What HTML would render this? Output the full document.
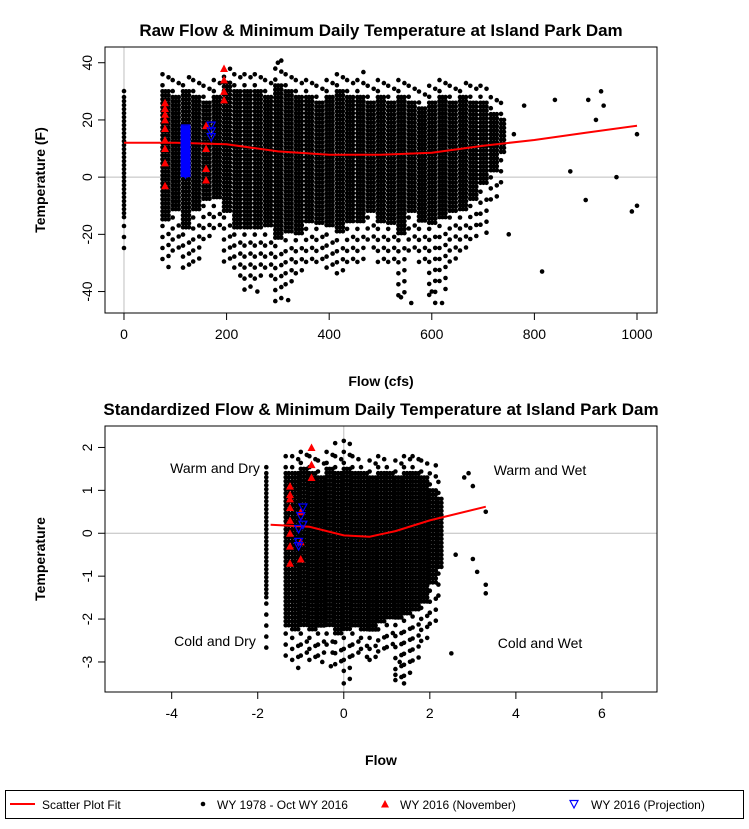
<!DOCTYPE html>
<html><head><meta charset="utf-8">
<style>
body{margin:0;background:#fff;}
svg{display:block;font-family:"Liberation Sans",Arial,sans-serif;}
</style></head>
<body>
<svg id="c" width="749" height="829" viewBox="0 0 749 829"></svg>
<script>
// ---- Top chart data (raw flow, cfs / temperature F) ----
const topColFlow=[0,75,95,115,135,155,175,195,215,235,255,275,295,315,335,355,375,395,415,435,455,475,495,515,535,555,575,595,615,635,655,675,695,715,735];
const topColEnd=[6,95,115,135,155,175,195,215,235,255,275,295,315,335,355,375,395,415,435,455,475,495,515,535,555,575,595,615,635,655,675,695,715,735,750];
const topColLo=[-15,-15,-12,-18,-12,-8,-8,-12,-18,-18,-18,-18,-22,-20,-20,-16,-16,-18,-20,-16,-16,-12,-16,-16,-20,-12,-16,-16,-15,-12,-12,-8,-3,2,8];
const topColHi=[28,30,28,30,28,26,28,33,30,30,30,28,32,30,28,28,26,28,30,28,28,26,28,26,28,26,24,26,28,26,28,26,26,22,20];
const topTailLo=[-28,-32,-26,-32,-30,-22,-20,-30,-35,-40,-38,-35,-44,-38,-35,-30,-30,-32,-35,-30,-30,-25,-32,-32,-44,-28,-30,-44,-40,-32,-28,-22,-20,-8,-2];
const topTailHi=[32,37,34,35,34,32,35,38,36,37,36,34,41,38,35,36,33,35,36,35,37,34,35,33,35,34,31,34,35,32,33,32,32,30,27];
const topOutFlow=[905,930,935,1000,1000,990,870,960,900,815,260,320,540,560,600,620,300,840,750,920,780,760];
const topOutTemp=[27,30,25,-10,15,-12,2,0,-8,-33,-40,-43,-42,-44,-40,-44,40,27,-20,20,25,15];
const topFitFlow=[0,100,200,300,400,500,600,700,800,900,1000];
const topFitTemp=[12,12,11.5,9,7.8,7.8,8.5,11,13,15.5,18];
const topRedFlow=[80,80,80,80,80,80,80,80,80,160,160,160,160,195,195,195,195];
const topRedTemp=[-3,5,10,13,17,20,22,24,26,-1,3,10,18,27,30,34,38];
const topBlueFlow=[120,120,120,120,120,170,170,170];
const topBlueTemp=[1,4,8,12,17,14,16,18];
// ---- Bottom chart data (standardized) ----
const botColFlow=[-1.8,-1.35,-1.2,-1.0,-0.8,-0.6,-0.4,-0.2,0.0,0.2,0.4,0.6,0.8,1.0,1.2,1.4,1.6,1.8,2.0,2.2];
const botColEnd=[-1.72,-1.2,-1.0,-0.8,-0.6,-0.4,-0.2,0.0,0.2,0.4,0.6,0.8,1.0,1.2,1.4,1.6,1.8,2.0,2.2,2.35];
const botColLo=[-1.5,-2.2,-2.3,-2.2,-2.3,-2.2,-2.2,-2.4,-2.3,-2.2,-2.3,-2.3,-2.1,-2.0,-2.0,-1.9,-1.8,-1.6,-1.2,-0.8];
const botColHi=[1.4,1.4,1.4,1.5,1.4,1.3,1.5,1.4,1.5,1.4,1.4,1.3,1.4,1.4,1.3,1.4,1.4,1.3,1.0,0.8];
const botTailLo=[-2.7,-2.9,-3.2,-2.9,-3.0,-3.0,-2.8,-3.2,-3.4,-3.0,-2.9,-3.0,-2.8,-2.8,-3.5,-3.5,-3.0,-2.6,-2.2,-1.6];
const botTailHi=[1.6,1.9,1.8,1.9,1.8,1.7,1.9,1.8,2.2,1.8,1.7,1.7,1.9,1.7,1.7,1.8,1.8,1.7,1.6,1.3];
const botOutFlow=[2.8,3.0,3.3,3.3,3.3,1.4,1.2,-0.3,0.0,-0.5,2.5,-0.2,1.3,2.9,3.1,2.6,3.0];
const botOutTemp=[1.3,1.1,0.5,-1.2,-1.4,-3.5,-3.3,-3.1,-3.5,-3.0,-2.8,2.1,-3.0,1.4,-0.9,-0.5,-0.6];
const botFitFlow=[-1.7,-0.8,0,0.6,1.2,2.0,3.3];
const botFitTemp=[0.2,0.15,-0.05,-0.08,0.05,0.3,0.62];
const botRedFlow=[-1.25,-1.25,-1.25,-1.25,-1.25,-1.25,-1.25,-1.25,-0.75,-0.75,-0.75,-1.0,-1.0,-1.0];
const botRedTemp=[-0.7,-0.3,0.0,0.3,0.6,0.8,0.9,1.1,1.3,1.6,2.0,-0.6,-0.2,0.5];
const botBlueFlow=[-1.05,-1.05,-0.95,-0.95,-1.0,-1.05];
const botBlueTemp=[-0.3,0.1,0.2,0.6,0.4,-0.2];

const NS="http://www.w3.org/2000/svg";
const svg=document.getElementById('c');
function mk(tag,attrs,parent){const e=document.createElementNS(NS,tag);for(const k in attrs)e.setAttribute(k,attrs[k]);(parent||svg).appendChild(e);return e;}
function txt(s,x,y,size,weight,anchor,rot,parent){const t=mk('text',{x:x,y:y,'font-size':size,'font-weight':weight||'normal','text-anchor':anchor||'middle'},parent);if(rot)t.setAttribute('transform','rotate(-90 '+x+' '+y+')');t.textContent=s;return t;}

function panel(cfg){
  const g=mk('g',{});
  
  
  const sx=v=>cfg.L+(v-cfg.x0)/(cfg.x1-cfg.x0)*(cfg.R-cfg.L);
  const sy=v=>cfg.B-(v-cfg.y0)/(cfg.y1-cfg.y0)*(cfg.B-cfg.T);
  const gl1=mk('line',{x1:sx(0),x2:sx(0),y1:cfg.T,y2:cfg.B,stroke:'#bebebe','stroke-width':1},g);
  
  const gl2=mk('line',{x1:cfg.L,x2:cfg.R,y1:sy(0),y2:sy(0),stroke:'#bebebe','stroke-width':1},g);
  
  const pts=mk('g',{fill:'#000'},g);
  
  for(let i=0;i<cfg.colX.length;i++){
    const xa=sx(cfg.colX[i]);
    const xb=Math.max(sx(cfg.colEnd[i])-2,xa);
    const ya=sy(cfg.colHi[i]),yb=sy(cfg.colLo[i]);
    const ta=sy(cfg.tailHi[i]),tb=sy(cfg.tailLo[i]);
    let k=0;
    for(let x=xa;x<=xb;x+=3,k++){
      for(let y=ya;y<=yb;y+=4){
        mk('circle',{cx:x.toFixed(1),cy:y.toFixed(1),r:2.3},pts);
      }
      // sparse tails
      const off=(k%3)*4;
      if(k%2===0){
        for(let y=ya-6-off;y>=ta;y-=11) mk('circle',{cx:x.toFixed(1),cy:y.toFixed(1),r:2.3},pts);
        for(let y=yb+6+off;y<=tb;y+=11) mk('circle',{cx:x.toFixed(1),cy:y.toFixed(1),r:2.3},pts);
      }
    }
  }
  for(let i=0;i<cfg.outX.length;i++){
    const c=mk('circle',{cx:sx(cfg.outX[i]),cy:sy(cfg.outY[i]),r:2.3},pts);
    
  }
  const d=cfg.fitX.map((v,i)=>(i?'L':'M')+sx(v).toFixed(1)+' '+sy(cfg.fitY[i]).toFixed(1)).join(' ');
  const fl=mk('path',{d:d,fill:'none',stroke:'#ff0000','stroke-width':2},g);
  
  for(let i=0;i<cfg.redX.length;i++){
    const x=sx(cfg.redX[i]),y=sy(cfg.redY[i]);
    const p=mk('polygon',{points:(x-4)+','+(y+3.5)+' '+(x+4)+','+(y+3.5)+' '+x+','+(y-4),fill:'#ff0000'},g);
    
  }
  for(let i=0;i<cfg.blueX.length;i++){
    const x=sx(cfg.blueX[i]),y=sy(cfg.blueY[i]);
    const p=mk('polygon',{points:(x-4)+','+(y-3.5)+' '+(x+4)+','+(y-3.5)+' '+x+','+(y+4),fill:'none',stroke:'#0000ff','stroke-width':1.2},g);
    
  }
  if(cfg.blueRect){
    const r=mk('rect',{x:sx(cfg.blueRect[0])-5,y:sy(cfg.blueRect[2]),width:10,height:sy(cfg.blueRect[1])-sy(cfg.blueRect[2]),fill:'#0000ff'},g);
    
  }
  const bx=mk('rect',{x:cfg.L,y:cfg.T,width:cfg.R-cfg.L,height:cfg.B-cfg.T,fill:'none',stroke:'#000','stroke-width':1},g);
  
  cfg.xTicks.forEach((v,i)=>{
    mk('line',{x1:sx(v),x2:sx(v),y1:cfg.B,y2:cfg.B+7,stroke:'#000'},g);
    const t=txt(cfg.xLabels[i],sx(v),cfg.B+26,14,'normal','middle',false,g);
    
  });
  mk('line',{x1:sx(cfg.xTicks[0]),x2:sx(cfg.xTicks[cfg.xTicks.length-1]),y1:cfg.B,y2:cfg.B,stroke:'#000'},g);
  cfg.yTicks.forEach((v,i)=>{
    mk('line',{x1:cfg.L-7,x2:cfg.L,y1:sy(v),y2:sy(v),stroke:'#000'},g);
    const t=txt(cfg.yLabels[i],cfg.L-13,sy(v),14,'normal','middle',true,g);
    
  });
  const tt=txt(cfg.title,381,cfg.T-11,17,'bold','middle',false,g);
  
  const xt=txt(cfg.xTitle,381,cfg.B+73,14,'bold','middle',false,g);
  
  const yt=txt(cfg.yTitle,45,(cfg.T+cfg.B)/2,14,'bold','middle',true,g);
  
  return {g,sx,sy};
}

panel({name:'raw-flow-panel',L:105,R:657,T:47,B:313,x0:-37,x1:1039,y0:-47.5,y1:45.5,
  colX:topColFlow,colEnd:topColEnd,colLo:topColLo,colHi:topColHi,tailLo:topTailLo,tailHi:topTailHi,outX:topOutFlow,outY:topOutTemp,
  fitX:topFitFlow,fitY:topFitTemp,redX:topRedFlow,redY:topRedTemp,blueX:topBlueFlow,blueY:topBlueTemp,
  blueRect:[120,0,18],
  xTicks:[0,200,400,600,800,1000],xLabels:['0','200','400','600','800','1000'],
  yTicks:[-40,-20,0,20,40],yLabels:['-40','-20','0','20','40'],
  title:'Raw Flow & Minimum Daily Temperature at Island Park Dam',xTitle:'Flow (cfs)',yTitle:'Temperature (F)'});

panel({name:'standardized-panel',L:105,R:657,T:426,B:692,x0:-5.55,x1:7.28,y0:-3.7,y1:2.5,
  colX:botColFlow,colEnd:botColEnd,colLo:botColLo,colHi:botColHi,tailLo:botTailLo,tailHi:botTailHi,outX:botOutFlow,outY:botOutTemp,
  fitX:botFitFlow,fitY:botFitTemp,redX:botRedFlow,redY:botRedTemp,blueX:botBlueFlow,blueY:botBlueTemp,
  blueRect:null,
  xTicks:[-4,-2,0,2,4,6],xLabels:['-4','-2','0','2','4','6'],
  yTicks:[-3,-2,-1,0,1,2],yLabels:['-3','-2','-1','0','1','2'],
  title:'Standardized Flow & Minimum Daily Temperature at Island Park Dam',xTitle:'Flow',yTitle:'Temperature'});

[['Warm and Dry',215,473,'quadrant-warm-dry'],['Warm and Wet',540,475,'quadrant-warm-wet'],['Cold and Dry',215,646,'quadrant-cold-dry'],['Cold and Wet',540,648,'quadrant-cold-wet']].forEach(q=>{
  const t=txt(q[0],q[1],q[2],14,'normal','middle',false);
  
  
});

const lg=mk('g',{});


mk('rect',{x:5.5,y:790.5,width:738,height:28,fill:'#fff',stroke:'#000'},lg);
mk('line',{x1:10,x2:35,y1:804,y2:804,stroke:'#ff0000','stroke-width':2},lg);
txt('Scatter Plot Fit',42,809,12,'normal','start',false,lg);
mk('circle',{cx:203,cy:804,r:2.3,fill:'#000'},lg);
txt('WY 1978 - Oct WY 2016',217,809,12,'normal','start',false,lg);
mk('polygon',{points:'381,807.5 389,807.5 385,800',fill:'#ff0000'},lg);
txt('WY 2016 (November)',400,809,12,'normal','start',false,lg);
mk('polygon',{points:'570,800.5 578,800.5 574,808',fill:'none',stroke:'#0000ff','stroke-width':1.2},lg);
txt('WY 2016 (Projection)',591,809,12,'normal','start',false,lg);
</script>
</body></html>
